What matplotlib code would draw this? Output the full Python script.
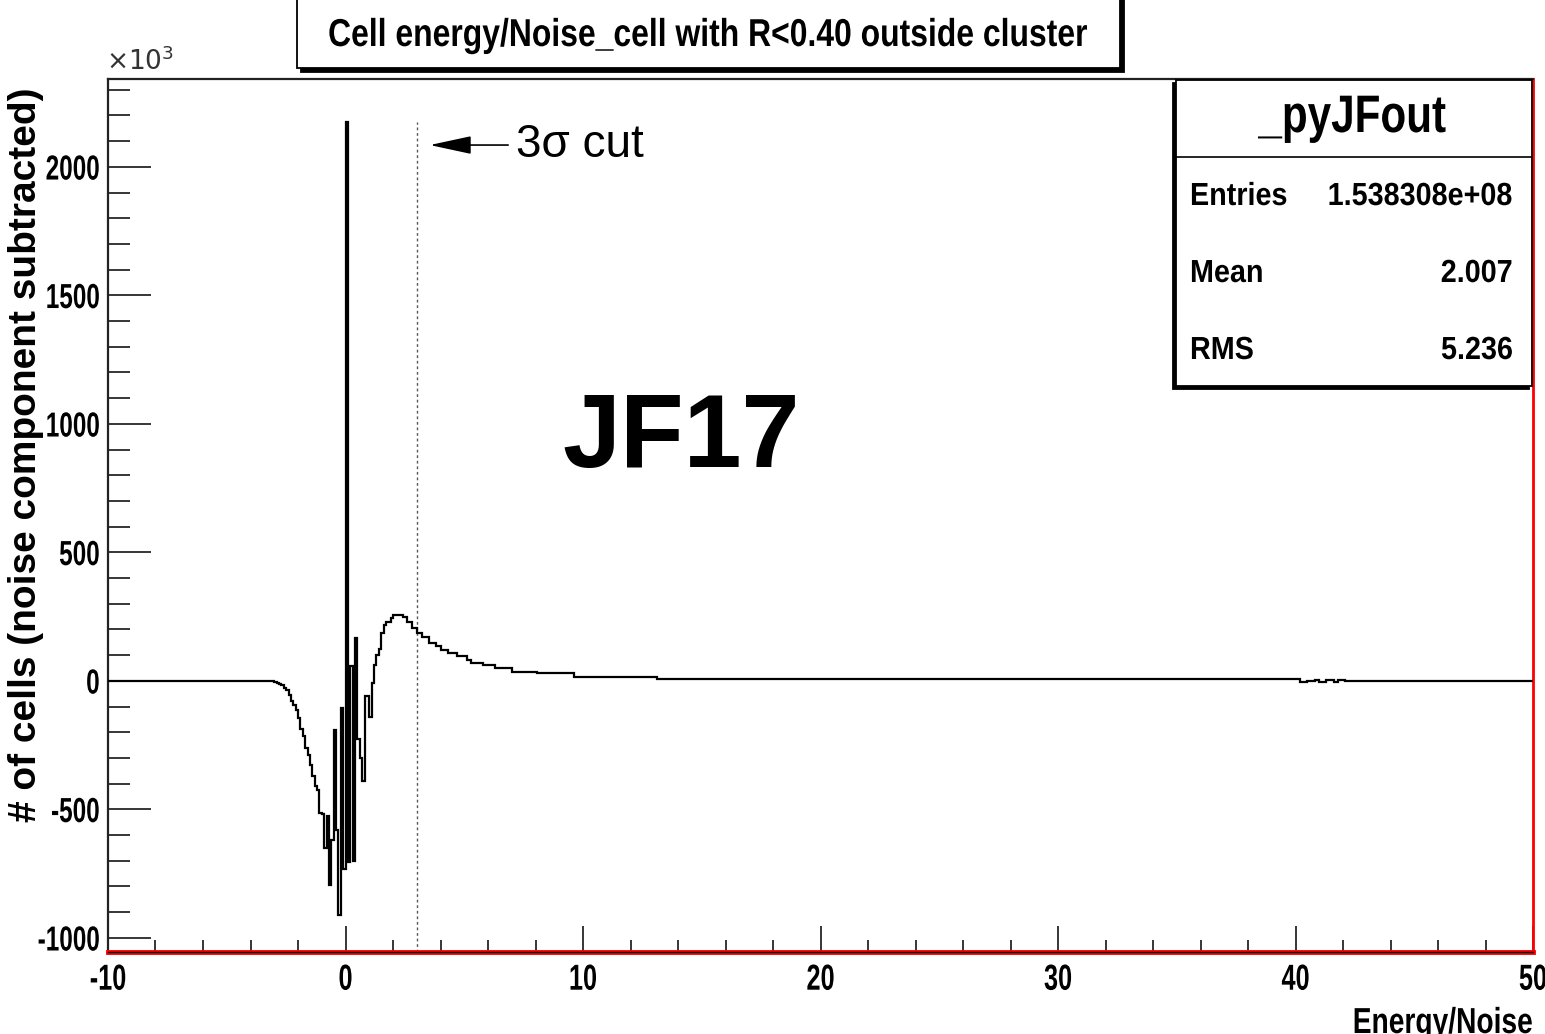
import numpy as np
import matplotlib.pyplot as plt
from matplotlib.patches import Rectangle
from matplotlib.patheffects import AbstractPathEffect
from matplotlib.ticker import MultipleLocator
from matplotlib.transforms import Affine2D

W, H = 1545, 1034

# histogram: bin edges in Energy/Noise, contents in units of 10^3 cells
# fine 0.1 binning around the noise peak, flat stretches merged further out
fine_edges = np.round(np.arange(-3.0, 1.25, 0.1), 2)
fine_counts = [-3, -9, -14, -18, -28, -36, -55, -78, -95, -113,
               -145, -188, -216, -262, -288, -327, -372, -411, -424, -515,
               -519, -650, -525, -795, -619, -190, -580, -910, -106, -733,
               2175, -703, 59, -699, 165, -226, -300, -389, -57, -57,
               -140, -8, 60]
tail_edges = [1.3, 1.4, 1.5, 1.6, 1.7, 1.8, 1.9, 2.0, 2.4, 2.6, 2.8, 3.0,
              3.2, 3.5, 3.8, 4.0, 4.3, 4.7, 5.1, 5.3, 5.8, 6.3, 7.0, 8.05,
              9.6, 13.1, 40.2, 40.5, 40.8, 41.0, 41.3, 41.6, 41.8, 42.1, 50]
tail_counts = [100, 125, 187, 218, 231, 231, 245, 257, 250, 231, 206,
               187, 172, 148, 135, 120, 107, 95, 82, 70, 61, 50, 36,
               30, 17, 6, -6, -2, 4, -4, 5, -3, 5, 1]

edges = [-10.0] + list(fine_edges) + tail_edges
counts = [0] + fine_counts + tail_counts

cut = 3.0
stats = [("Entries", "1.538308e+08"), ("Mean", "2.007"), ("RMS", "5.236")]

SANS = ['Liberation Sans', 'DejaVu Sans']
plt.rcParams['axes.unicode_minus'] = False


class Squeeze(AbstractPathEffect):
    """Rescale glyphs about an anchor (ROOT's condensed helvetica look)."""

    def __init__(self, sx, sy=1.0, ha='left', va='baseline'):
        super().__init__()
        self.sx, self.sy = sx, sy
        self.fx = {'left': 0.0, 'center': 0.5, 'right': 1.0}[ha]
        self.fy = {'baseline': 0.0, 'center': 0.5, 'top': 1.0}[va]

    def draw_path(self, renderer, gc, tpath, affine, rgbFace=None):
        if len(tpath.vertices) == 0:
            return
        a = self.fx * tpath.vertices[:, 0].max()
        c = self.fy * tpath.vertices[:, 1].max()
        t = Affine2D().translate(-a, -c).scale(self.sx, self.sy).translate(a, c)
        renderer.draw_path(gc, tpath, t + affine, rgbFace)


def fpx(x, y):
    # pixel position (from top-left) -> figure fraction
    return x / W, 1 - y / H


fig = plt.figure(figsize=(W / 100, H / 100), dpi=100)
l, b = fpx(108, 952)
r, t = fpx(1533, 79)
ax = fig.add_axes([l, b, r - l, t - b])

ax.stairs(counts, edges, baseline=None, color='black', lw=1.6, zorder=3)

ymin, ymax = -1055, 2342
ax.set_xlim(-10, 50)
ax.set_ylim(ymin, ymax)

# 3 sigma cut
ax.plot([cut, cut], [ymin, 2175], ls=(0, (2, 2)), lw=1, color='0.35', zorder=2)
ax.annotate('', xy=(3.55, 2085), xytext=(6.85, 2085),
            arrowprops=dict(arrowstyle='-|>,head_length=1.3,head_width=0.28',
                            mutation_scale=20, color='black', lw=1.2,
                            shrinkA=0, shrinkB=0))
ax.text(7.2, 2085, '3σ cut', fontsize=33, family=SANS, va='center', ha='left')
ax.text(0.402, 0.586, 'JF17', transform=ax.transAxes, fontsize=75,
        fontweight='bold', family=SANS, ha='center', va='center')

ax.xaxis.set_major_locator(MultipleLocator(10))
ax.xaxis.set_minor_locator(MultipleLocator(2))
ax.yaxis.set_major_locator(MultipleLocator(500))
ax.yaxis.set_minor_locator(MultipleLocator(100))
ax.tick_params(axis='x', which='major', direction='in', length=19, width=1.1,
               pad=8, top=False)
ax.tick_params(axis='x', which='minor', direction='in', length=8.5, width=1.1,
               top=False)
ax.tick_params(axis='y', which='major', direction='in', length=31, width=1.1,
               pad=6, right=False)
ax.tick_params(axis='y', which='minor', direction='in', length=15.5, width=1.1,
               right=False)
# narrow tall digits: small font stretched vertically
for lab in ax.get_xticklabels():
    lab.set(fontfamily=SANS, fontweight='bold', fontsize=18.2,
            path_effects=[Squeeze(1.0, 1.43, 'center', 'top')])
for lab in ax.get_yticklabels():
    lab.set(fontfamily=SANS, fontweight='bold', fontsize=17.5,
            path_effects=[Squeeze(1.0, 1.43, 'right', 'center')])

for side in ['top', 'left']:
    ax.spines[side].set_color('#222222')
    ax.spines[side].set_linewidth(1.6)
ax.spines['bottom'].set_color('red')
ax.spines['bottom'].set_linewidth(3.5)
ax.spines['right'].set_color('red')
ax.spines['right'].set_linewidth(2)
ax.axhline(ymin, color='black', lw=1, zorder=4, clip_on=False)

# axis titles
x, y = fpx(26, 455)
fig.text(x, y, '# of cells (noise component subtracted)', rotation=90,
         fontsize=28, fontweight='bold', family=SANS, ha='center', va='center')
x, y = fpx(1533, 1033)
fig.text(x, y, 'Energy/Noise', fontsize=26, fontweight='bold', family=SANS,
         ha='right', va='baseline', path_effects=[Squeeze(0.78, ha='right')])
x, y = fpx(106, 70)
fig.text(x, y, r'$\times10^{3}$', fontsize=19, color='#333333',
         ha='left', va='baseline')

# title box with shadow
for dx, col in [(4, 'black'), (0, 'white')]:
    x0, y0 = fpx(297 + dx, 68 + dx)
    x1, y1 = fpx(1120 + dx, -80)
    fig.add_artist(Rectangle((x0, y0), x1 - x0, y1 - y0, transform=fig.transFigure,
                             facecolor=col, edgecolor='black', lw=1.3, zorder=5))
x, y = fpx(708, 36)
fig.text(x, y, 'Cell energy/Noise_cell with R<0.40 outside cluster', fontsize=28,
         fontweight='bold', family=SANS, ha='center', va='center', zorder=6,
         path_effects=[Squeeze(0.82, ha='center')])

# stats box with shadow
for dx, col in [(3, 'black'), (0, 'white')]:
    x0, y0 = fpx(1176 - dx, 386 + dx)
    x1, y1 = fpx(1532 - dx, 80 + dx)
    fig.add_artist(Rectangle((x0, y0), x1 - x0, y1 - y0, transform=fig.transFigure,
                             facecolor=col, edgecolor='black', lw=1.3, zorder=5))
x0, y0 = fpx(1176, 157)
x1, _ = fpx(1532, 157)
fig.add_artist(plt.Line2D([x0, x1], [y0, y0], transform=fig.transFigure,
                          color='black', lw=1.2, zorder=6))
x, y = fpx(1352, 118)
fig.text(x, y, '_pyJFout', fontsize=38, fontweight='bold', family=SANS,
         ha='center', va='center', zorder=6,
         path_effects=[Squeeze(0.8, ha='center')])
for i, (name, val) in enumerate(stats):
    yy = 197 + i * 77
    x, y = fpx(1190, yy)
    fig.text(x, y, name, fontsize=23, fontweight='bold', family=SANS,
             ha='left', va='center', zorder=6, path_effects=[Squeeze(0.9)])
    x, y = fpx(1513, yy)
    fig.text(x, y, val, fontsize=23, fontweight='bold', family=SANS,
             ha='right', va='center', zorder=6,
             path_effects=[Squeeze(0.9, ha='right')])

fig.savefig('out.png', dpi=100)
